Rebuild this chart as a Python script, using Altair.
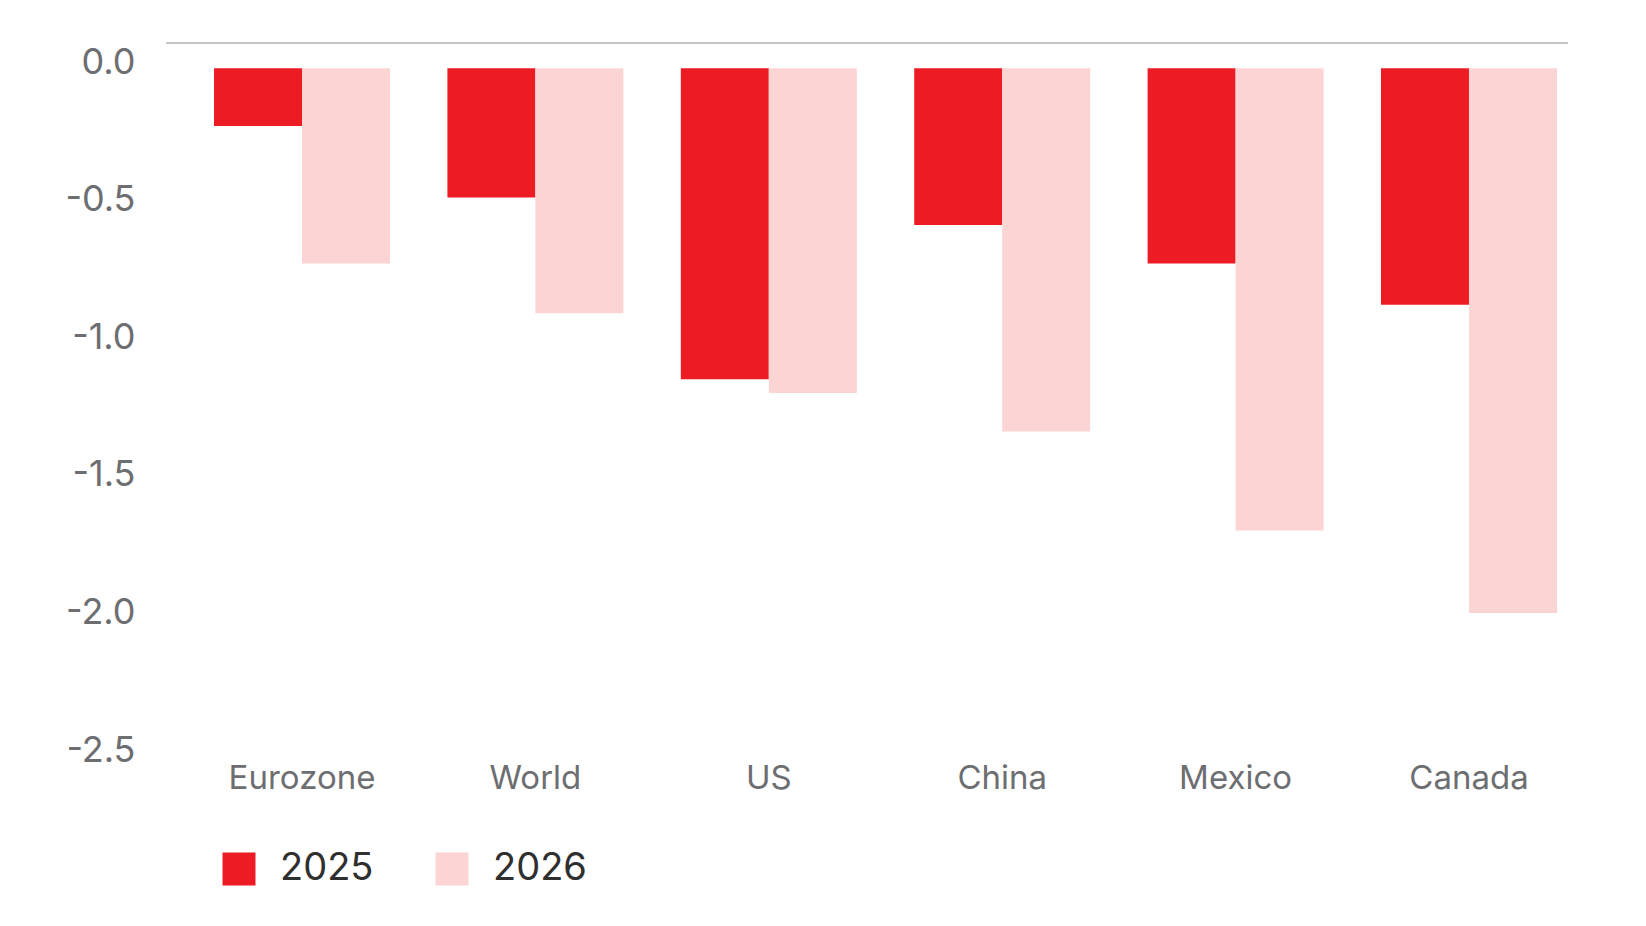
import altair as alt
import pandas as pd

countries = ["Eurozone", "World", "US", "China", "Mexico", "Canada"]
years = ["2025", "2026"]
v2025 = [-0.21, -0.47, -1.13, -0.57, -0.71, -0.86]
v2026 = [-0.71, -0.89, -1.18, -1.32, -1.68, -1.98]
y_ticks = [0.0, -0.5, -1.0, -1.5, -2.0, -2.5]
colors = ["#ed1c24", "#fbd4d4"]

rows = []
for c, a, b in zip(countries, v2025, v2026):
    rows.append({"country": c, "year": "2025", "value": a})
    rows.append({"country": c, "year": "2026", "value": b})
df = pd.DataFrame(rows)

W, H = 1409, 713
label_color = "#6d6e71"

bars = alt.Chart(df).mark_bar().encode(
    x=alt.X(
        "country:N",
        sort=countries,
        scale=alt.Scale(paddingInner=0.246, paddingOuter=0.1415, align=0.727),
        axis=alt.Axis(
            title=None, labelAngle=0, labelFontSize=33, labelColor=label_color,
            labelFont="Inter", ticks=False, domain=False, labelPadding=6,
        ),
    ),
    xOffset=alt.XOffset("year:N", sort=years),
    y=alt.Y(
        "value:Q",
        scale=alt.Scale(domain=[-2.5, 0.092], nice=False, zero=False),
        axis=alt.Axis(
            title=None, values=y_ticks, grid=False, domain=False, ticks=False,
            labelPadding=31, labelOffset=-6, labelFontSize=36, labelColor=label_color,
            labelFont="Inter",
            labelExpr="replace(format(datum.value, '.1f'), '\u2212', '-')",
        ),
    ),
    y2=alt.datum(0),
    color=alt.Color(
        "year:N",
        scale=alt.Scale(domain=years, range=colors),
        legend=alt.Legend(
            title=None, orient="none", legendX=54, legendY=807,
            direction="horizontal", symbolType="square", symbolSize=1089,
            symbolStrokeWidth=0, labelFontSize=38, labelColor="#2f2f2f",
            labelFont="Inter", labelOffset=22, columnPadding=59, padding=0,
        ),
    ),
)

rule = alt.Chart(pd.DataFrame({"a": [0]})).mark_rule(color="#c4c4c4", strokeWidth=2).encode(
    y=alt.value(0), x=alt.value(0), x2=alt.value(W - 7)
)

chart = alt.layer(rule, bars).properties(
    width=W,
    height=H,
    padding={"left": 158, "top": 35, "right": 63, "bottom": 150},
    autosize=alt.AutoSizeParams(type="none"),
    background="white",
).configure_view(stroke=None)

chart.save("out.html", embed_options={"renderer": "svg", "actions": False})
